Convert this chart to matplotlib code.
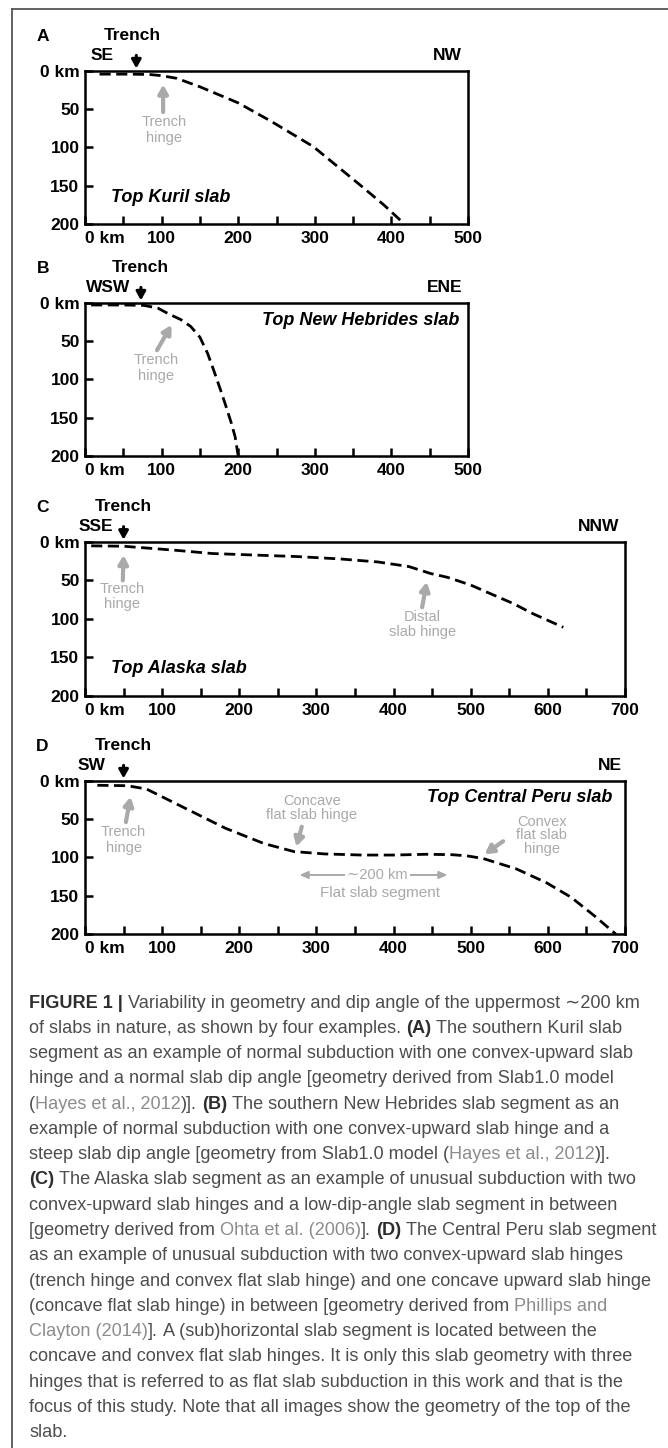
import matplotlib
matplotlib.use('Agg')
import matplotlib.pyplot as plt
from matplotlib.lines import Line2D

plt.rcParams['font.family'] = ['Liberation Sans', 'DejaVu Sans']

W, H = 668, 1448

# top of slab: distance (km) vs depth (km)
kuril_x = [19, 60, 85, 100, 120, 150, 200, 243, 298, 359, 390, 417]
kuril_depth = [4.5, 4.5, 5, 6.5, 10, 21, 42, 66, 99, 149, 175, 200]

hebrides_x = [8, 50, 77, 95, 110, 125, 138, 150, 160, 168, 177, 184, 191, 196, 200]
hebrides_depth = [3, 3, 3.5, 7, 15, 22, 31, 45, 66, 88, 114, 135, 157, 175, 200]

alaska_x = [8, 50, 82, 120, 165, 220, 276, 330, 380, 420, 448, 470, 500, 525, 555, 580, 600, 620]
alaska_depth = [5, 5.5, 8, 11, 15, 17, 19, 22, 26, 32, 41, 46, 56, 67, 80, 93, 102, 111]

peru_x = [16, 55, 80, 100, 140, 182, 232, 271, 310, 359, 400, 442, 475, 495, 516, 559, 598, 630, 660, 688]
peru_depth = [6, 6.5, 11, 21, 41, 62, 82, 92.5, 95.5, 97, 97, 96, 96.5, 98, 101.5, 115, 133, 152, 176, 200]

depth_ticks = [0, 50, 100, 150, 200]
depth_labels = ['0 km', '50', '100', '150', '200']

panel_letters = ['A', 'B', 'C', 'D']
panel_left_dir = ['SE', 'WSW', 'SSE', 'SW']
panel_right_dir = ['NW', 'ENE', 'NNW', 'NE']
panel_names = ['Top Kuril slab', 'Top New Hebrides slab', 'Top Alaska slab', 'Top Central Peru slab']
panel_xmax = [500, 500, 700, 700]
trench_x = [67, 73, 50, 50]
profiles = [(kuril_x, kuril_depth), (hebrides_x, hebrides_depth),
            (alaska_x, alaska_depth), (peru_x, peru_depth)]

GREY = '#a9a9a9'

fig = plt.figure(figsize=(W / 100, H / 100), dpi=100)

# left, top, right, bottom in pixels
boxes = [(85, 70.7, 468, 224), (85, 302.7, 468, 456),
         (85, 542, 625, 695.7), (85, 780.7, 625, 934)]
left_dir_x = [22, 30, 14, 8]
right_dir_x = [473, 470, 666, 680]
trench_text_x = [62, 72, 50, 50]

axes = []
for i in range(4):
    l, t, r, b = boxes[i]
    ax = fig.add_axes([l / W, 1 - b / H, (r - l) / W, (b - t) / H])
    axes.append(ax)
    xs, ds = profiles[i]
    ax.plot(xs, ds, color='black', lw=2.0, ls=(0, (4, 2)), clip_on=False)
    ax.set_xlim(0, panel_xmax[i])
    ax.set_ylim(200, 0)
    ax.set_xticks(list(range(0, panel_xmax[i] + 1, 100)))
    ax.set_xticks(list(range(50, panel_xmax[i], 100)), minor=True)
    ax.set_xticklabels(['0 km'] + [str(v) for v in range(100, panel_xmax[i] + 1, 100)])
    ax.set_yticks(depth_ticks)
    ax.set_yticklabels(depth_labels)
    ax.tick_params(axis='both', which='both', direction='in', length=6, width=1.8,
                   labelsize=12.5, pad=4)
    ax.tick_params(axis='x', pad=5)
    for lbl in ax.get_xticklabels() + ax.get_yticklabels():
        lbl.set_fontweight('bold')
    ax.get_xticklabels()[0].set_horizontalalignment('left')
    for sp in ax.spines.values():
        sp.set_linewidth(1.8)

    kw = dict(fontsize=12.5, fontweight='bold', ha='center', va='center', clip_on=False)
    ax.text(-55, -45, panel_letters[i], **kw)
    ax.text(trench_text_x[i], -46, 'Trench', **kw)
    ax.text(left_dir_x[i], -20, panel_left_dir[i], **kw)
    ax.text(right_dir_x[i], -20, panel_right_dir[i], **kw)
    ax.annotate('', xy=(trench_x[i], -3), xytext=(trench_x[i], -20), annotation_clip=False,
                arrowprops=dict(arrowstyle='-|>,head_length=0.5,head_width=0.28',
                                color='black', lw=2.2, shrinkA=0, shrinkB=0))


def hinge(ax, text, tx, ty, tail, tip, ls=1.15):
    ax.text(tx, ty, text, fontsize=10.5, color=GREY, ha='center', va='center',
            linespacing=ls)
    ax.annotate('', xy=tip, xytext=tail,
                arrowprops=dict(arrowstyle='-|>,head_length=0.5,head_width=0.28',
                                color=GREY, lw=3.0, shrinkA=0, shrinkB=0))


name_kw = dict(fontsize=13, fontweight='bold', style='italic', va='center')
axA, axB, axC, axD = axes
axA.text(34, 165, panel_names[0], ha='left', **name_kw)
hinge(axA, 'Trench\nhinge', 103, 77, (102, 54), (102, 18))

axB.text(489, 23.5, panel_names[1], ha='right', **name_kw)
hinge(axB, 'Trench\nhinge', 93, 85, (94, 62), (113, 29))

axC.text(34, 164, panel_names[2], ha='left', **name_kw)
hinge(axC, 'Trench\nhinge', 48, 71, (49, 50), (50, 17))
hinge(axC, 'Distal\nslab hinge', 437, 107, (437, 85), (443, 52), ls=1.1)

axD.text(684, 22, panel_names[3], ha='right', **name_kw)
hinge(axD, 'Trench\nhinge', 50, 77, (53, 54), (59, 21))
hinge(axD, 'Concave\nflat slab hinge', 294, 35, (281, 60), (274, 86), ls=1.0)
hinge(axD, 'Convex\nflat slab\nhinge', 592, 71, (542, 79), (518, 96), ls=0.95)
axD.annotate('', xy=(278, 123), xytext=(470, 123),
             arrowprops=dict(arrowstyle='<|-|>,head_length=0.5,head_width=0.22',
                             color=GREY, lw=1.4, shrinkA=0, shrinkB=0))
axD.text(379, 123, '\u223c200 km', fontsize=10.5, color=GREY, ha='center', va='center',
         bbox=dict(facecolor='white', edgecolor='none', pad=1.5))
axD.text(383, 147, 'Flat slab segment', fontsize=11, color=GREY, ha='center', va='center')

# page frame
fig.add_artist(Line2D([12 / W, 1], [1 - 9 / H, 1 - 9 / H], color='#555555', lw=1.3,
                      transform=fig.transFigure))
fig.add_artist(Line2D([12 / W, 12 / W], [0, 1 - 9 / H], color='#555555', lw=1.3,
                      transform=fig.transFigure))

caption = [
    [('FIGURE 1 |', 'b'), (' Variability in geometry and dip angle of the uppermost \u223c200 km', 'n')],
    [('of slabs in nature, as shown by four examples. ', 'n'), ('(A)', 'b'), (' The southern Kuril slab', 'n')],
    [('segment as an example of normal subduction with one convex-upward slab', 'n')],
    [('hinge and a normal slab dip angle [geometry derived from Slab1.0 model', 'n')],
    [('(', 'n'), ('Hayes et al., 2012', 'l'), (')]. ', 'n'), ('(B)', 'b'),
     (' The southern New Hebrides slab segment as an', 'n')],
    [('example of normal subduction with one convex-upward slab hinge and a', 'n')],
    [('steep slab dip angle [geometry from Slab1.0 model (', 'n'), ('Hayes et al., 2012', 'l'), (')].', 'n')],
    [('(C)', 'b'), (' The Alaska slab segment as an example of unusual subduction with two', 'n')],
    [('convex-upward slab hinges and a low-dip-angle slab segment in between', 'n')],
    [('[geometry derived from ', 'n'), ('Ohta et al. (2006)', 'l'), ('].', 'n'), (' (D)', 'b'),
     (' The Central Peru slab segment', 'n')],
    [('as an example of unusual subduction with two convex-upward slab hinges', 'n')],
    [('(trench hinge and convex flat slab hinge) and one concave upward slab hinge', 'n')],
    [('(concave flat slab hinge) in between [geometry derived from ', 'n'), ('Phillips and', 'l')],
    [('Clayton (2014)', 'l'), ('].', 'n'), (' A (sub)horizontal slab segment is located between the', 'n')],
    [('concave and convex flat slab hinges. It is only this slab geometry with three', 'n')],
    [('hinges that is referred to as flat slab subduction in this work and that is the', 'n')],
    [('focus of this study. Note that all images show the geometry of the top of the', 'n')],
    [('slab.', 'n')],
]
styles = {'n': ('#4d4d4d', 'normal'), 'b': ('#2e2e2e', 'bold'), 'l': ('#8c8c8c', 'normal')}

renderer = fig.canvas.get_renderer()


def text_width(s, size, weight):
    t = fig.text(0, 0, s, fontsize=size, fontweight=weight)
    w = t.get_window_extent(renderer).width
    t.remove()
    return w


def layout_line(line, size, x0=None, y=None):
    sp = {w: text_width('n n', size, w) - text_width('nn', size, w) for w in ('normal', 'bold')}
    x = 0.0 if x0 is None else x0
    for s, kind in line:
        color, weight = styles[kind]
        lead = len(s) - len(s.lstrip(' '))
        trail = len(s) - len(s.rstrip(' '))
        core = s.strip(' ')
        x += lead * sp[weight]
        if x0 is not None:
            fig.text(x / W, 1 - y / H, core, fontsize=size, fontweight=weight,
                     color=color, ha='left', va='center')
        x += text_width(core, size, weight)
        x += trail * sp[weight]
    return x


base = 12.5
cap_size = base * 611 / layout_line(caption[0], base)
for i, line in enumerate(caption):
    layout_line(line, cap_size, x0=29, y=1003 + i * 25.28)

fig.savefig('out.png', dpi=100)
